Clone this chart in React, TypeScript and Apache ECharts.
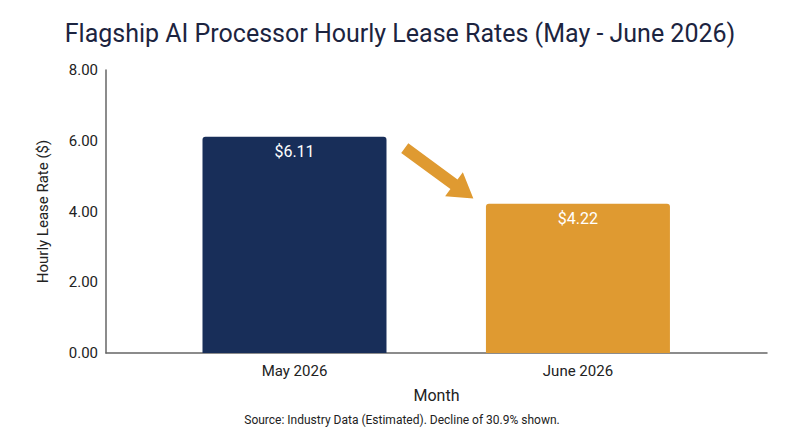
import React, { useEffect, useRef } from "react";
import * as echarts from "echarts";

const months: string[] = ["May 2026", "June 2026"];
const rates: number[] = [6.11, 4.22];
const barColors: string[] = ["#182e59", "#df9a31"];
const yTicks: number[] = [0, 2, 4, 6, 8];
// arrow annotation endpoints in data units [x, y]
const arrowTail: number[] = [0.389, 5.79];
const arrowTip: number[] = [0.631, 4.37];

const TITLE = "Flagship AI Processor Hourly Lease Rates (May - June 2026)";
const FOOTER = "Source: Industry Data (Estimated). Decline of 30.9% shown.";
const FONT = "Roboto, 'Noto Sans', sans-serif";

export default function App() {
  const ref = useRef<HTMLDivElement>(null);
  useEffect(() => {
    if (!ref.current) return;
    const chart = echarts.init(ref.current, undefined, { renderer: "svg" });
    const option: any = {
      animation: false,
      backgroundColor: "#ffffff",
      textStyle: { fontFamily: FONT },
      title: {
        text: TITLE,
        left: "center",
        top: 16,
        textStyle: { fontFamily: FONT, fontSize: 25, fontWeight: "normal", color: "#1c2440" },
      },
      grid: { left: 106, right: 33, top: 70, bottom: 94, containLabel: false },
      xAxis: {
        type: "value",
        min: -0.665,
        max: 1.667,
        name: "Month",
        nameLocation: "middle",
        nameGap: 34,
        nameTextStyle: { fontFamily: FONT, fontSize: 16, color: "#222222" },
        axisLine: { show: true, onZero: false, lineStyle: { color: "#666666", width: 1.5 } },
        axisTick: { show: false },
        splitLine: { show: false },
        axisLabel: {
          customValues: [0, 1],
          formatter: (v: number) => months[Math.round(v)] ?? "",
          fontFamily: FONT,
          fontSize: 15,
          color: "#222222",
          margin: 10,
        },
      },
      yAxis: {
        type: "value",
        min: yTicks[0],
        max: yTicks[yTicks.length - 1],
        interval: 2,
        name: "Hourly Lease Rate ($)",
        nameLocation: "middle",
        nameGap: 56,
        nameTextStyle: { fontFamily: FONT, fontSize: 15, color: "#222222" },
        axisLine: { show: true, onZero: false, lineStyle: { color: "#666666", width: 1.5 } },
        axisTick: { show: false },
        splitLine: { show: false },
        axisLabel: {
          formatter: (v: number) => v.toFixed(2),
          fontFamily: FONT,
          fontSize: 15,
          color: "#222222",
          margin: 8,
        },
      },
      series: [
        {
          type: "bar",
          barWidth: 184,
          data: rates.map((r, i) => ({
            value: [i, r],
            itemStyle: { color: barColors[i], borderRadius: [3, 3, 0, 0] },
          })),
          label: {
            show: true,
            position: "insideTop",
            distance: 7,
            formatter: (p: any) => "$" + p.value[1].toFixed(2),
            fontFamily: FONT,
            fontSize: 16,
            color: "#ffffff",
          },
        },
      ],
    };
    chart.setOption(option);

    const a = chart.convertToPixel({ gridIndex: 0 }, arrowTail) as number[];
    const b = chart.convertToPixel({ gridIndex: 0 }, arrowTip) as number[];
    const dx = b[0] - a[0];
    const dy = b[1] - a[1];
    const len = Math.sqrt(dx * dx + dy * dy);
    const ux = dx / len;
    const uy = dy / len;
    const nx = -uy;
    const ny = ux;
    const headLen = 24;
    const shaftHalf = 6;
    const headHalf = 15;
    const base = [b[0] - ux * headLen, b[1] - uy * headLen];
    const pts = [
      [a[0] + nx * shaftHalf, a[1] + ny * shaftHalf],
      [base[0] + nx * shaftHalf, base[1] + ny * shaftHalf],
      [base[0] + nx * headHalf, base[1] + ny * headHalf],
      [b[0], b[1]],
      [base[0] - nx * headHalf, base[1] - ny * headHalf],
      [base[0] - nx * shaftHalf, base[1] - ny * shaftHalf],
      [a[0] - nx * shaftHalf, a[1] - ny * shaftHalf],
    ];

    chart.setOption({
      graphic: [
        {
          type: "polygon",
          shape: { points: pts },
          style: { fill: barColors[1] },
          z: 10,
        },
        {
          type: "text",
          x: 402,
          y: 420,
          style: {
            text: FOOTER,
            fontFamily: FONT,
            fontSize: 12,
            fill: "#222222",
            textAlign: "center",
            textVerticalAlign: "middle",
          },
        },
      ],
    });

    return () => chart.dispose();
  }, []);
  return (
    <div
      ref={ref}
      style={{ position: "fixed", left: 0, top: 0, width: 800, height: 447 }}
    />
  );
}
